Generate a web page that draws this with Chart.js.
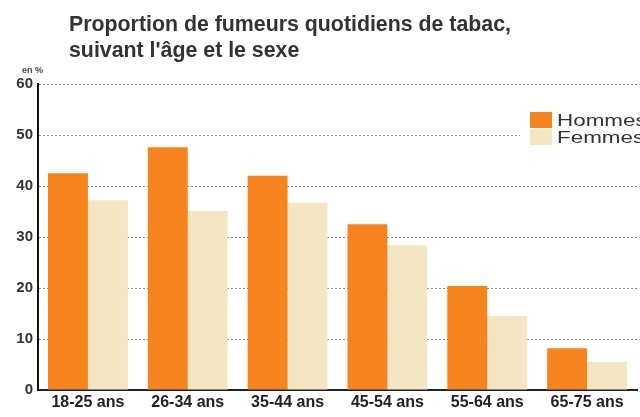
<!DOCTYPE html>
<html>
<head>
<meta charset="utf-8">
<script src="https://cdn.jsdelivr.net/npm/chart.js@4/dist/chart.umd.min.js"></script>
<style>
  html, body { margin: 0; padding: 0; background: #ffffff; }
  #wrap { width: 640px; height: 417px; position: relative; }
</style>
</head>
<body>
<div id="wrap"><canvas id="c" width="640" height="417"></canvas></div>
<script>
// Age groups and daily smoker shares (%)
const ageGroups = ['18-25 ans', '26-34 ans', '35-44 ans', '45-54 ans', '55-64 ans', '65-75 ans'];
const hommes = [42.5, 47.6, 42.0, 32.5, 20.4, 8.2];
const femmes = [37.2, 35.1, 36.7, 28.4, 14.5, 5.5];
const yTicks = [0, 10, 20, 30, 40, 50, 60];

const titleLines = ['Proportion de fumeurs quotidiens de tabac,', "suivant l'âge et le sexe"];
const unitLabel = 'en %';

const ORANGE = '#f6841f';
const BEIGE = '#f4e5c3';
const NARROW = '"Liberation Sans Narrow", "Arial Narrow", "Liberation Sans", sans-serif';
const SANS = '"Liberation Sans", Arial, sans-serif';

// Title, unit and legend drawn on the canvas
const decorations = {
  id: 'decorations',
  afterDraw(chart) {
    const ctx = chart.ctx;
    ctx.save();
    ctx.fillStyle = '#333333';
    ctx.textBaseline = 'alphabetic';
    ctx.textAlign = 'left';
    ctx.font = 'bold 22px ' + NARROW;
    // first line spans a fixed width
    const w1 = ctx.measureText(titleLines[0]).width;
    const sx = 442 / w1;
    [31, 57].forEach((y, i) => {
      ctx.save();
      ctx.translate(69, y);
      ctx.scale(sx, 1);
      ctx.fillText(titleLines[i], 0, 0);
      ctx.restore();
    });

    ctx.font = 'bold 9px ' + NARROW;
    ctx.fillStyle = '#444';
    ctx.fillText(unitLabel, 22, 73);

    // legend
    ctx.fillStyle = '#ffffff';
    ctx.fillRect(520, 104, 120, 46);
    ctx.font = '16px ' + SANS;
    chart.data.datasets.forEach((ds, i) => {
      const y = 112 + i * 17;
      ctx.fillStyle = ds.backgroundColor;
      ctx.fillRect(530, y, 22, 16);
      ctx.fillStyle = '#333';
      ctx.save();
      ctx.translate(557, y + 14);
      ctx.scale(1.4, 1);
      ctx.fillText(ds.label, 0, 0);
      ctx.restore();
    });
    ctx.restore();
  }
};

new Chart(document.getElementById('c'), {
  type: 'bar',
  data: {
    labels: ageGroups,
    datasets: [
      { label: 'Hommes', data: hommes, backgroundColor: ORANGE, categoryPercentage: 0.8, barPercentage: 1.0 },
      { label: 'Femmes', data: femmes, backgroundColor: BEIGE, categoryPercentage: 0.8, barPercentage: 1.0 }
    ]
  },
  options: {
    responsive: false,
    animation: false,
    layout: { padding: { top: 84, right: 3, left: 0, bottom: 0 } },
    plugins: {
      legend: { display: false },
      title: { display: false },
      tooltip: { enabled: false }
    },
    scales: {
      x: {
        grid: { display: false, drawTicks: false },
        border: { display: true, color: '#1d2230', width: 2 },
        ticks: {
          color: '#222',
          font: { family: NARROW, size: 16, weight: 'bold' },
          padding: 3,
          maxRotation: 0,
          autoSkip: false
        },
        afterFit(scale) { scale.height = 27; }
      },
      y: {
        min: 0,
        max: 60,
        afterBuildTicks(scale) { scale.ticks = yTicks.map(v => ({ value: v })); },
        grid: {
          color: '#7f89a0',
          lineWidth: 1,
          drawTicks: false
        },
        // dotted horizontal grid, solid axis line
        border: { display: true, color: '#111', width: 2, dash: [2, 2] },
        ticks: {
          color: '#333',
          font: { family: NARROW, size: 15, weight: 'bold' },
          padding: 5
        },
        afterFit(scale) { scale.width = 38; }
      }
    }
  },
  plugins: [decorations]
});
</script>
</body>
</html>
